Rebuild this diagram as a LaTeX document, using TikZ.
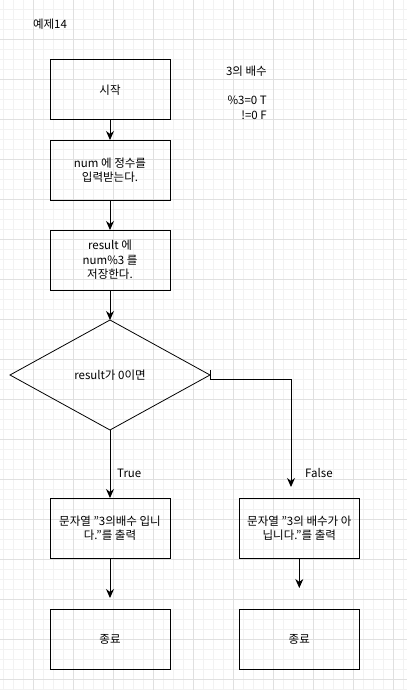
\documentclass[tikz,border=0pt]{standalone}
\usepackage{fontspec}
\setmainfont{Noto Sans CJK KR}
\usetikzlibrary{arrows.meta}
\usetikzlibrary{shapes.geometric}

\tikzset{
  box/.style={draw,line width=1pt,minimum width=120pt,minimum height=60pt,
    inner sep=0pt,outer sep=0pt,align=center,font=\fontsize{11.5}{14.5}\selectfont},
  decision/.style={draw,diamond,line width=0.8pt,minimum width=200pt,minimum height=110pt,
    inner sep=0pt,outer sep=0pt,font=\fontsize{11.5}{14.5}\selectfont},
  flow/.style={-{Stealth[length=9pt,width=8pt]},line width=1pt},
  note/.style={font=\fontsize{11.5}{14.5}\selectfont,inner sep=0pt},
}

\begin{document}
\begin{tikzpicture}[x=1pt,y=-1pt]
        \useasboundingbox (0,0) rectangle (407,690);
        \fill[white] (0,0) rectangle (407,690);

        % grid
        \foreach \g in {3.3,13.3,...,407} \draw[black!5,line width=0.8pt] (\g,0)--(\g,690);
        \foreach \g in {9.3,19.3,...,690} \draw[black!5,line width=0.8pt] (0,\g)--(407,\g);
        \foreach \g in {33.3,73.3,...,407} \draw[black!12,line width=0.8pt] (\g,0)--(\g,690);
        \foreach \g in {39.3,79.3,...,690} \draw[black!12,line width=0.8pt] (0,\g)--(407,\g);

        \node[note] (title) at (50,24) {예제14};
        \node[note,align=right,anchor=north east] (memo) at (267,66)
            {3의 배수\\[14.5pt]\%3=0 T\\!=0 F};

        \node[box] (start) at (110,90) {시작};
        \node[box] (input) at (110,170) {num 에 정수를\\입력받는다.};
        \node[box] (calc) at (110,260) {result 에\\num\%3 를\\저장한다.};
        \node[decision] (dec) at (110,375) {result가 0이면};
        \node[box] (yes) at (110,528) {문자열 "3의배수 입니\\다."를 출력};
        \node[box] (no) at (299.3,528) {문자열 "3의 배수가 아\\닙니다."를 출력};
        \node[box] (endL) at (110,639) {종료};
        \node[box] (endR) at (299.3,639) {종료};

        \draw[flow] (start)--(input);
        \draw[flow] (input)--(calc);
        \draw[flow] (calc)--(dec);
        \draw[flow] (dec.south)--(yes.north);
        \draw[flow,shorten >=11pt] ([yshift=5pt]dec.east)--++(0,9) -| ([xshift=-8.3pt]no.north);
        \draw[flow,shorten >=11pt] (yes)--(endL);
        \draw[flow,shorten >=21pt] (no)--(endR);

        \node[note,anchor=west] (lblT) at (117,473) {True};
        \node[note,anchor=west] (lblF) at (305,473) {False};
    \end{tikzpicture}
\end{document}
